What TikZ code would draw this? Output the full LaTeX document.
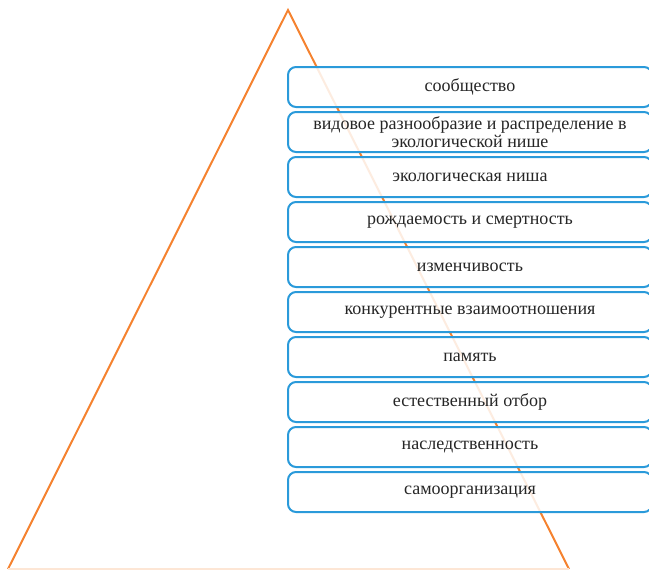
\documentclass[tikz,border=0pt]{standalone}
\usepackage{fontspec}
\setmainfont{Liberation Serif}

\definecolor{triorange}{HTML}{F5822F}
\definecolor{boxblue}{HTML}{2A9ADA}

\tikzset{
    level/.style={draw=boxblue, line width=2pt, rounded corners=8pt, fill=white,
        fill opacity=0.85, text opacity=1, text=black!85, minimum width=364pt,
        minimum height=40pt, inner sep=2pt, align=center,
        font=\fontsize{18}{18.5}\selectfont}
}

\begin{document}
\begin{tikzpicture}[x=1pt, y=-1pt]

        \useasboundingbox (0, 0) rectangle (649, 571);

        \coordinate (top) at (288, 10);
        \coordinate (left) at (8, 569);
        \coordinate (right) at (569, 569);

        \draw[line width=2pt, triorange, line join=miter] (left) -- (top) -- (right);
        \draw[line width=2pt, triorange!20] (left) -- (right);

        \node[level] (l1) at (470, 87){сообщество};
        \node[level] (l2) at (470, 132){видовое разнообразие и распределение в\\ экологической нише};
        \node[level] (l3) at (470, 177){экологическая ниша};
        \node[level] (l4) at (470, 222){рождаемость и смертность};
        \node[level] (l5) at (470, 267){изменчивость};
        \node[level] (l6) at (470, 312){конкурентные взаимоотношения};
        \node[level] (l7) at (470, 357){память};
        \node[level] (l8) at (470, 402){естественный отбор};
        \node[level] (l9) at (470, 447){наследственность};
        \node[level] (l10) at (470, 492){самоорганизация};

\end{tikzpicture}
\end{document}
